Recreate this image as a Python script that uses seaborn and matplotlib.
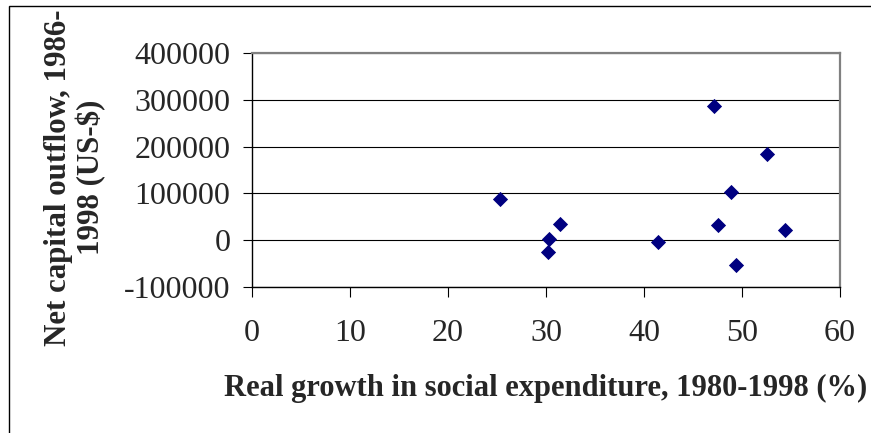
import matplotlib
matplotlib.use("Agg")
import matplotlib.pyplot as plt
import matplotlib.patches as mpatches
import seaborn as sns
import pandas as pd

# Data
social_growth = [25.3, 47.1, 52.5, 48.9, 31.4, 47.5, 54.4, 30.3, 41.4, 30.2, 49.4]
capital_outflow = [88000, 286000, 185000, 102000, 35000, 32500, 22500, 2000, -3000, -24500, -52300]
x_ticks = [0, 10, 20, 30, 40, 50, 60]
y_ticks = [-100000, 0, 100000, 200000, 300000, 400000]
x_label = "Real growth in social expenditure, 1980-1998 (%)"
y_label = "Net capital outflow, 1986-\n1998 (US-$)"

df = pd.DataFrame({"growth": social_growth, "outflow": capital_outflow})

sns.set_style("white")
plt.rcParams["font.family"] = ["Liberation Serif", "DejaVu Serif"]

W, H = 871, 433
fig = plt.figure(figsize=(W / 100, H / 100), dpi=100)
L, R, T, B = 252, 840, 53, 287
ax = fig.add_axes([L / W, 1 - B / H, (R - L) / W, (B - T) / H])

sns.scatterplot(data=df, x="growth", y="outflow", ax=ax, marker="D",
                color="#000080", s=60, linewidth=0, zorder=3)

ax.set_xlim(0, 60)
ax.set_ylim(-100000, 400000)
ax.set_xticks(x_ticks)
ax.set_yticks(y_ticks)
ax.set_xticklabels([str(v) for v in x_ticks])
ax.set_yticklabels([str(v) for v in y_ticks])

ax.yaxis.grid(True, color="black", linewidth=0.8)
ax.xaxis.grid(False)
ax.set_axisbelow(True)

for side in ["top", "right"]:
    ax.spines[side].set_visible(True)
    ax.spines[side].set_color("#808080")
    ax.spines[side].set_linewidth(1.6)
for side in ["left", "bottom"]:
    ax.spines[side].set_visible(True)
    ax.spines[side].set_color("black")
    ax.spines[side].set_linewidth(1.0)

ax.tick_params(axis="y", direction="out", length=6.5, width=0.8, color="black",
               pad=9, labelsize=23, left=True)
ax.tick_params(axis="x", direction="out", length=7, width=0.8, color="black",
               pad=16, labelsize=23, bottom=True)

ax.set_xlabel(x_label, fontsize=22, fontweight="bold", va="center", ha="center")
ax.xaxis.set_label_coords(0.5, (B - 388) / (B - T))
ax.set_ylabel(y_label, fontsize=22.2, fontweight="bold", va="center", ha="center",
              rotation_mode="anchor", linespacing=1.15)
ax.yaxis.set_label_coords((75 - L) / (R - L), (B - 177.5) / (B - T))

# outer chart border (only left and top edges visible in the reference)
border = mpatches.Rectangle((8.5 / W, -0.2), 1.2, 1.2 - 5.5 / H,
                            transform=fig.transFigure, fill=False,
                            edgecolor="black", linewidth=1.0, clip_on=False)
fig.patches.append(border)

fig.savefig("out.png", dpi=100, facecolor="white")
